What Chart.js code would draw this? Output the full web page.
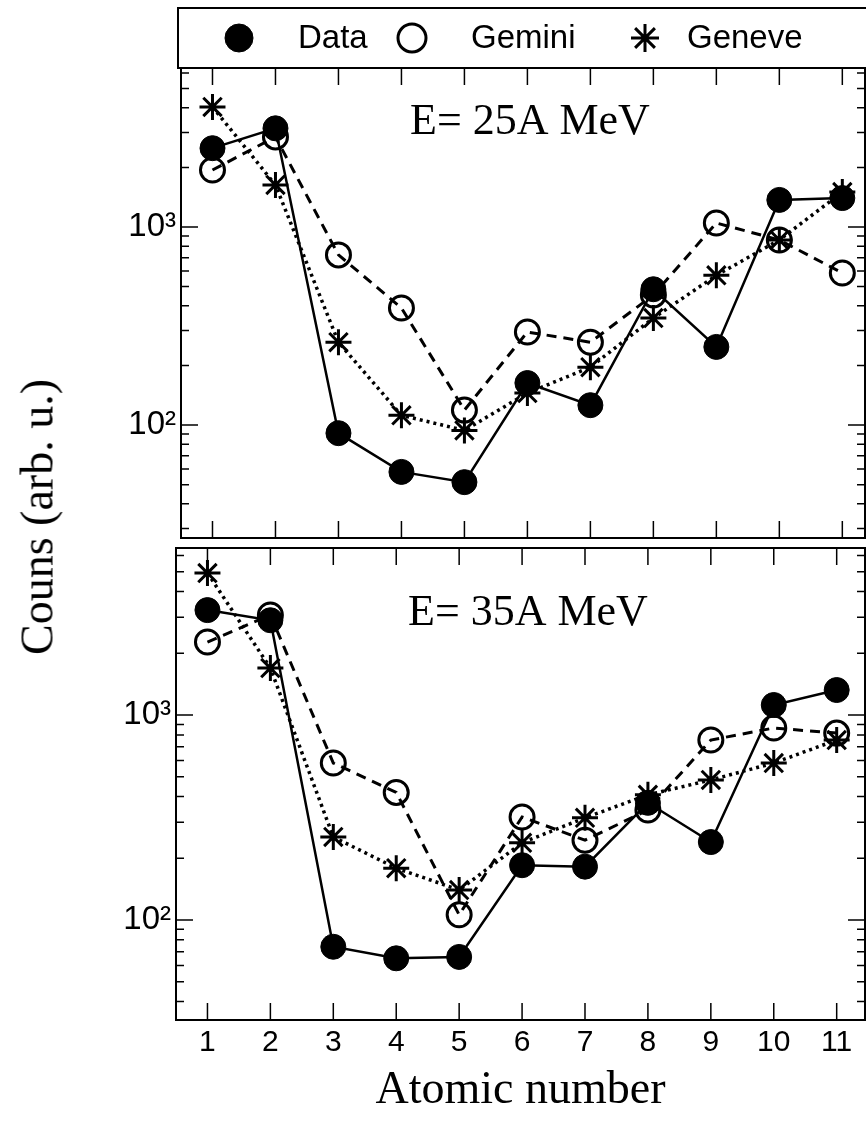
<!DOCTYPE html>
<html>
<head>
<meta charset="utf-8">
<script src="https://cdn.jsdelivr.net/npm/chart.js@4/dist/chart.umd.min.js"></script>
<style>
  html, body { margin: 0; padding: 0; background: #fff; }
  #wrap { position: relative; width: 866px; height: 1121px; overflow: hidden; }
  #cTop { position: absolute; left: 0; top: 0; }
  #cBot { position: absolute; left: 0; top: 540px; }
  #ytitle {
    position: absolute; left: 37px; top: 517px;
    transform: translate(-50%, -50%) rotate(-90deg);
    font: 46px "Liberation Serif", serif; white-space: nowrap; color: #000;
  }
</style>
</head>
<body>
<div id="wrap">
  <canvas id="cTop" width="866" height="545"></canvas>
  <canvas id="cBot" width="866" height="581"></canvas>
  <div id="ytitle">Couns (arb. u.)</div>
</div>
<script>
const atomicNumbers = [1, 2, 3, 4, 5, 6, 7, 8, 9, 10, 11];
const yLabelValues = [100, 1000];

// E = 25A MeV
const data25   = [2500, 3150, 91, 58, 51.5, 163, 126, 485, 248, 1370, 1400];
const gemini25 = [1940, 2850, 723, 390, 119, 295, 262, 454, 1047, 860, 586];
const geneve25 = [4040, 1630, 262, 112, 94, 145, 196, 347, 570, 860, 1500];

// E = 35A MeV
const data35   = [3250, 2900, 74, 65, 66, 185, 182, 373, 240, 1119, 1324];
const gemini35 = [2270, 3075, 583, 419, 106, 318, 245, 344, 755, 864, 816];
const geneve35 = [4930, 1695, 254, 179, 140, 238, 315, 408, 482, 583, 755];

const SUP = { 2: '\u00B2', 3: '\u00B3' };
const pts = arr => atomicNumbers.map((x, i) => ({ x, y: arr[i] }));

const makeDatasets = (d, gm, gv) => [
  {
    label: 'Data', data: pts(d), order: 0,
    borderColor: '#000', borderWidth: 2.5,
    pointStyle: 'circle', pointRadius: 12.5, pointBackgroundColor: '#000',
    pointBorderColor: '#000', pointBorderWidth: 1
  },
  {
    label: 'Gemini', data: pts(gm), order: 1,
    borderColor: '#000', borderWidth: 3, borderDash: [10, 7],
    pointStyle: 'circle', pointRadius: 12, pointBackgroundColor: 'rgba(0,0,0,0)',
    pointBorderColor: '#000', pointBorderWidth: 3
  },
  {
    label: 'Geneve', data: pts(gv), order: 2,
    borderColor: '#000', borderWidth: 3.5, borderDash: [3, 4],
    pointStyle: 'star', pointRadius: 13, pointBackgroundColor: 'rgba(0,0,0,0)',
    pointBorderColor: '#000', pointBorderWidth: 3
  }
];

// no label-overflow padding: the plot box is placed by layout.padding only
const noPad = s => { s.paddingTop = 0; s.paddingBottom = 0; s.paddingLeft = 0; s.paddingRight = 0; };

// frame + inward ticks on all four sides
const frameTicks = {
  id: 'frameTicks',
  afterDatasetsDraw(chart) {
    const { ctx, chartArea: a, scales: { x, y } } = chart;
    ctx.save();
    ctx.strokeStyle = '#000';
    ctx.lineWidth = 2;
    ctx.strokeRect(a.left, a.top, a.right - a.left, a.bottom - a.top);
    ctx.lineWidth = 1.5;
    ctx.beginPath();
    atomicNumbers.forEach(n => {
      const px = x.getPixelForValue(n);
      ctx.moveTo(px, a.bottom); ctx.lineTo(px, a.bottom - 17);
      ctx.moveTo(px, a.top); ctx.lineTo(px, a.top + 17);
    });
    const e0 = Math.floor(Math.log10(y.min)), e1 = Math.ceil(Math.log10(y.max));
    for (let e = e0; e <= e1; e++) {
      for (let m = 1; m < 10; m++) {
        const v = m * Math.pow(10, e);
        if (v < y.min || v > y.max) continue;
        const py = y.getPixelForValue(v);
        const len = m === 1 ? 17 : 8;
        ctx.moveTo(a.left, py); ctx.lineTo(a.left + len, py);
        ctx.moveTo(a.right, py); ctx.lineTo(a.right - len, py);
      }
    }
    ctx.stroke();
    ctx.restore();
  }
};

const panelLabel = {
  id: 'panelLabel',
  afterDraw(chart, args, opts) {
    const { ctx } = chart;
    ctx.save();
    ctx.font = '44px "Liberation Serif"';
    ctx.fillStyle = '#000';
    ctx.textBaseline = 'alphabetic';
    ctx.fillText(opts.text, opts.x, opts.y);
    ctx.restore();
  }
};

// boxed legend above the top panel
const boxLegend = {
  id: 'boxLegend',
  afterDraw(chart, args, opts) {
    if (!opts.items) return;
    const { ctx, chartArea } = chart;
    ctx.save();
    ctx.strokeStyle = '#000';
    ctx.lineWidth = 2;
    ctx.strokeRect(opts.left, opts.top, opts.right - opts.left, chartArea.top - opts.top);
    ctx.font = '33px "Liberation Sans"';
    ctx.textBaseline = 'middle';
    chart.data.datasets.forEach((ds, i) => {
      const it = opts.items[i];
      ctx.fillStyle = ds.pointBackgroundColor;
      ctx.strokeStyle = ds.pointBorderColor;
      ctx.lineWidth = ds.pointBorderWidth;
      Chart.helpers.drawPoint(ctx, { pointStyle: ds.pointStyle, radius: it.r, borderWidth: ds.pointBorderWidth }, it.marker, opts.cy);
      ctx.fillStyle = '#000';
      ctx.fillText(ds.label, it.text, opts.cy + 1);
    });
    ctx.restore();
  }
};

const yScale = (min, max, width) => ({
  type: 'logarithmic', min, max,
  grid: { display: false, drawTicks: false },
  border: { display: false },
  afterBuildTicks: s => { s.ticks = yLabelValues.map(v => ({ value: v })); },
  afterFit: s => { s.width = width; noPad(s); },
  ticks: {
    autoSkip: false, padding: 5, color: '#000',
    font: { family: 'Liberation Sans', size: 33 },
    callback: v => '10' + SUP[Math.round(Math.log10(v))]
  }
});

new Chart(document.getElementById('cTop'), {
  type: 'line',
  data: { datasets: makeDatasets(data25, gemini25, geneve25) },
  plugins: [frameTicks, panelLabel, boxLegend],
  options: {
    responsive: false, animation: false, events: [],
    layout: { autoPadding: false, padding: { top: 68, bottom: 7, left: 0, right: 1 } },
    elements: { line: { tension: 0 } },
    scales: {
      x: { type: 'linear', min: 0.5, max: 11.36, display: false, afterFit: noPad },
      y: yScale(26.9, 6350, 181)
    },
    plugins: {
      legend: { display: false },
      tooltip: { enabled: false },
      panelLabel: { text: 'E= 25A MeV', x: 410, y: 134 },
      boxLegend: {
        left: 178, right: 870, top: 8, cy: 38,
        items: [
          { marker: 239, text: 298, r: 14 },
          { marker: 412, text: 471, r: 14 },
          { marker: 645, text: 687, r: 14 }
        ]
      }
    }
  }
});

new Chart(document.getElementById('cBot'), {
  type: 'line',
  data: { datasets: makeDatasets(data35, gemini35, geneve35) },
  plugins: [frameTicks, panelLabel],
  options: {
    responsive: false, animation: false, events: [],
    layout: { autoPadding: false, padding: { top: 8, bottom: 0, left: 0, right: 1 } },
    elements: { line: { tension: 0 } },
    scales: {
      x: {
        type: 'linear', min: 0.5, max: 11.45,
        grid: { display: false, drawTicks: false },
        border: { display: false },
        afterBuildTicks: s => { s.ticks = atomicNumbers.map(v => ({ value: v })); },
        afterFit: s => { s.height = 101; noPad(s); },
        ticks: {
          autoSkip: false, padding: 5, color: '#000', maxRotation: 0,
          font: { family: 'Liberation Sans', size: 30 }
        },
        title: {
          display: true, text: 'Atomic number', color: '#000',
          font: { family: 'Liberation Serif', size: 46 },
          padding: { top: 0, bottom: 2 }
        }
      },
      y: yScale(32.5, 6530, 176)
    },
    plugins: {
      legend: { display: false },
      tooltip: { enabled: false },
      panelLabel: { text: 'E= 35A MeV', x: 408, y: 85 }
    }
  }
});
</script>
</body>
</html>
